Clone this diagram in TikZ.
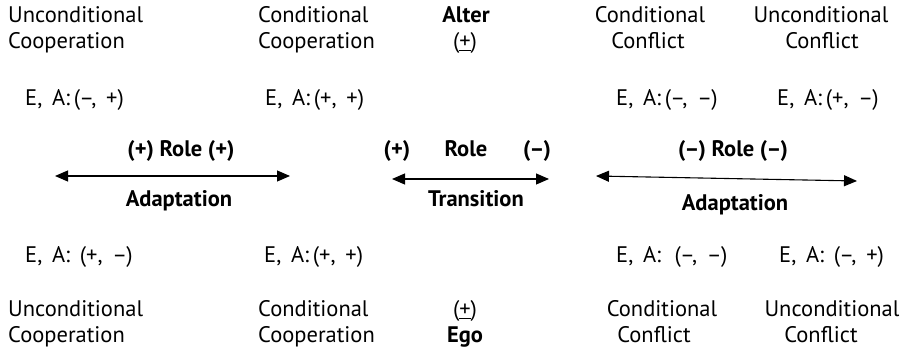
\documentclass[tikz,border=0pt]{standalone}
\usepackage{fontspec}
\setmainfont{PT Sans}
\usetikzlibrary{arrows.meta}
\begin{document}
\begin{tikzpicture}[x=1pt,y=-1pt,
  lbl/.style={inner sep=0pt,font=\fontsize{22.5}{26}\selectfont},
  blbl/.style={lbl,font=\fontsize{22.5}{26}\selectfont\bfseries},
  dbl/.style={line width=1.1pt,{Triangle[length=13pt,width=11pt]}-{Triangle[length=13pt,width=11pt]}}]
\useasboundingbox (0,0) rectangle (907,352);
% top row
\node[lbl,anchor=base west] (tuc1) at (8,23) {Unconditional};
\node[lbl,anchor=base west] (tuc2) at (8,49) {Cooperation};
\node[lbl,anchor=base west] (tcc1) at (258,23) {Conditional};
\node[lbl,anchor=base west] (tcc2) at (258,49) {Cooperation};
\node[blbl,anchor=base] (alter) at (466,23) {Alter};
\node[lbl,anchor=base] (apm) at (465,49) {(\underline{+})};
\node[lbl,anchor=base] (tcf1) at (650,23) {Conditional};
\node[lbl,anchor=base] (tcf2) at (648,49) {Conflict};
\node[lbl,anchor=base] (tuf1) at (821,23) {Unconditional};
\node[lbl,anchor=base] (tuf2) at (822,49) {Conflict};
% second row
\node[lbl,anchor=base west] (ea1) at (25,106) {E,\, A:\,(–,\, +)};
\node[lbl,anchor=base west] (ea2) at (265,106) {E,\, A:\,(+,\, +)};
\node[lbl,anchor=base west] (ea3) at (616,106) {E,\, A:\,(–,\, –)};
\node[lbl,anchor=base west] (ea4) at (777,106) {E,\, A:\,(+,\, –)};
% role row
\node[blbl,anchor=base] (r1) at (181,157) {(+) Role (+)};
\node[blbl,anchor=base] (r2a) at (397,157) {(+)};
\node[blbl,anchor=base] (r2b) at (466,157) {Role};
\node[blbl,anchor=base] (r2c) at (537,157) {(–)};
\node[blbl,anchor=base] (r3) at (733,157) {(–) Role (–)};
% arrows
\coordinate (a1l) at (55,176);
\coordinate (a1r) at (290,176);
\coordinate (a2l) at (392,179);
\coordinate (a2r) at (549,179);
\coordinate (a3l) at (596,176);
\coordinate (a3r) at (857,181);
\draw[dbl] (a1l) -- (a1r);
\draw[dbl] (a2l) -- (a2r);
\draw[dbl] (a3l) -- (a3r);
\node[blbl,anchor=base] (ad1) at (179,207) {Adaptation};
\node[blbl,anchor=base] (tr) at (476,207) {Transition};
\node[blbl,anchor=base] (ad3) at (735,211) {Adaptation};
% fifth row
\node[lbl,anchor=base west] (eb1) at (25,263) {E,\, A:\, (+,\, –)};
\node[lbl,anchor=base west] (eb2) at (264,263) {E,\, A:\,(+,\, +)};
\node[lbl,anchor=base west] (eb3) at (616,263) {E,\, A:\, \,(–,\, –)};
\node[lbl,anchor=base west] (eb4) at (779,263) {E,\, A:\, (–,\, +)};
% bottom row
\node[lbl,anchor=base west] (buc1) at (8,317) {Unconditional};
\node[lbl,anchor=base west] (buc2) at (8,343) {Cooperation};
\node[lbl,anchor=base west] (bcc1) at (258,317) {Conditional};
\node[lbl,anchor=base west] (bcc2) at (258,343) {Cooperation};
\node[lbl,anchor=base] (epm) at (465,317) {(\underline{+})};
\node[blbl,anchor=base] (ego) at (465,343) {Ego};
\node[lbl,anchor=base] (bcf1) at (662,317) {Conditional};
\node[lbl,anchor=base] (bcf2) at (654,343) {Conflict};
\node[lbl,anchor=base] (buf1) at (832,317) {Unconditional};
\node[lbl,anchor=base] (buf2) at (821,343) {Conflict};
\end{tikzpicture}
\end{document}
